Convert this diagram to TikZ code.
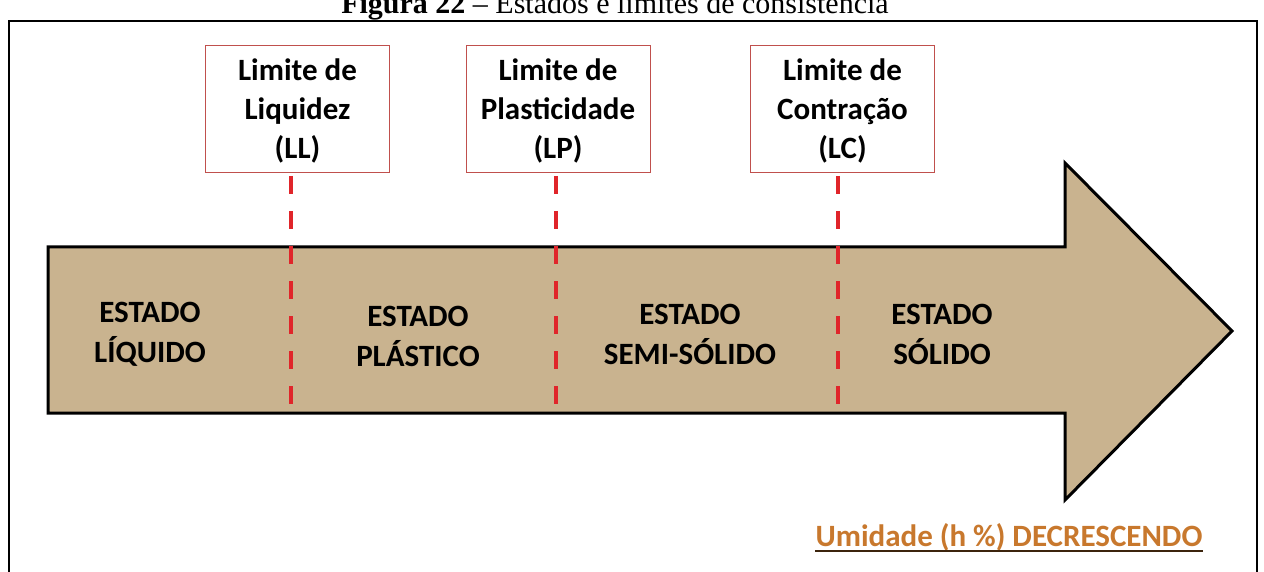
\documentclass[tikz,border=0pt]{standalone}
\usepackage{fontspec}
\setmainfont{Liberation Serif}
\newfontfamily\carl{Carlito}
\definecolor{tan}{HTML}{C9B38F}
\definecolor{dashred}{HTML}{E0252A}
\definecolor{boxred}{HTML}{C0504D}
\definecolor{umid}{HTML}{C8782D}
\begin{document}
\begin{tikzpicture}[x=1pt,y=-1pt,
  limbox/.style={draw=boxred,line width=1pt,fill=white,minimum width=184pt,minimum height=127pt,inner sep=0pt},
  limtxt/.style={font=\carl\bfseries\fontsize{31}{39}\selectfont,align=center,text=black},
  statetxt/.style={font=\carl\bfseries\fontsize{31}{40}\selectfont,align=center,text=black},
  limline/.style={draw=dashred,line width=4pt,dash pattern=on 18pt off 17pt}
]
\useasboundingbox (0,0) rectangle (1264,572);
% title
\node[anchor=base,font=\fontsize{30}{32}\selectfont] (title) at (615,14) {\textbf{Figura 22} -- Estados e limites de consist\^encia};
% frame
\draw[line width=2pt] (9,580) -- (9,21) -- (1257,21) -- (1257,580);
% arrow
\draw[fill=tan,line width=3pt,line join=miter] (48,247) -- (1065,247) -- (1065,163) -- (1232,331) -- (1065,500) -- (1065,413) -- (48,413) -- cycle;
% boxes
\node[limbox] (ll) at (297.5,109.5) {};
\node[limbox] (lp) at (558,109.5) {};
\node[limbox] (lc) at (842.5,109.5) {};
\node[limtxt] (llt) at (297.5,111) {Limite de\\Liquidez\\(LL)};
\node[limtxt] (lpt) at (558,111) {Limite de\\Plasticidade\\(LP)};
\node[limtxt] (lct) at (842.5,111) {Limite de\\Contração\\(LC)};
% dashed lines
\coordinate (lle) at (291,412);
\coordinate (lpe) at (556,412);
\coordinate (lce) at (838,412);
\draw[limline] (291,176) -- (lle);
\draw[limline] (556,176) -- (lpe);
\draw[limline] (838,176) -- (lce);
% states
\node[statetxt] (s1) at (150,334) {ESTADO\\LÍQUIDO};
\node[statetxt] (s2) at (418,336) {ESTADO\\PLÁSTICO};
\node[statetxt] (s3) at (690,334) {ESTADO\\SEMI-SÓLIDO};
\node[statetxt] (s4) at (942,334) {ESTADO\\SÓLIDO};
% bottom label
\node[font=\carl\bfseries\fontsize{31}{34}\selectfont,text=umid,inner sep=0pt,anchor=base] (um) at (1009,546) {Umidade (h \%) DECRESCENDO};
\draw[line width=1.5pt,color=black!70!umid] ([yshift=-5pt]um.base west) -- ([yshift=-5pt]um.base east);
\end{tikzpicture}
\end{document}
